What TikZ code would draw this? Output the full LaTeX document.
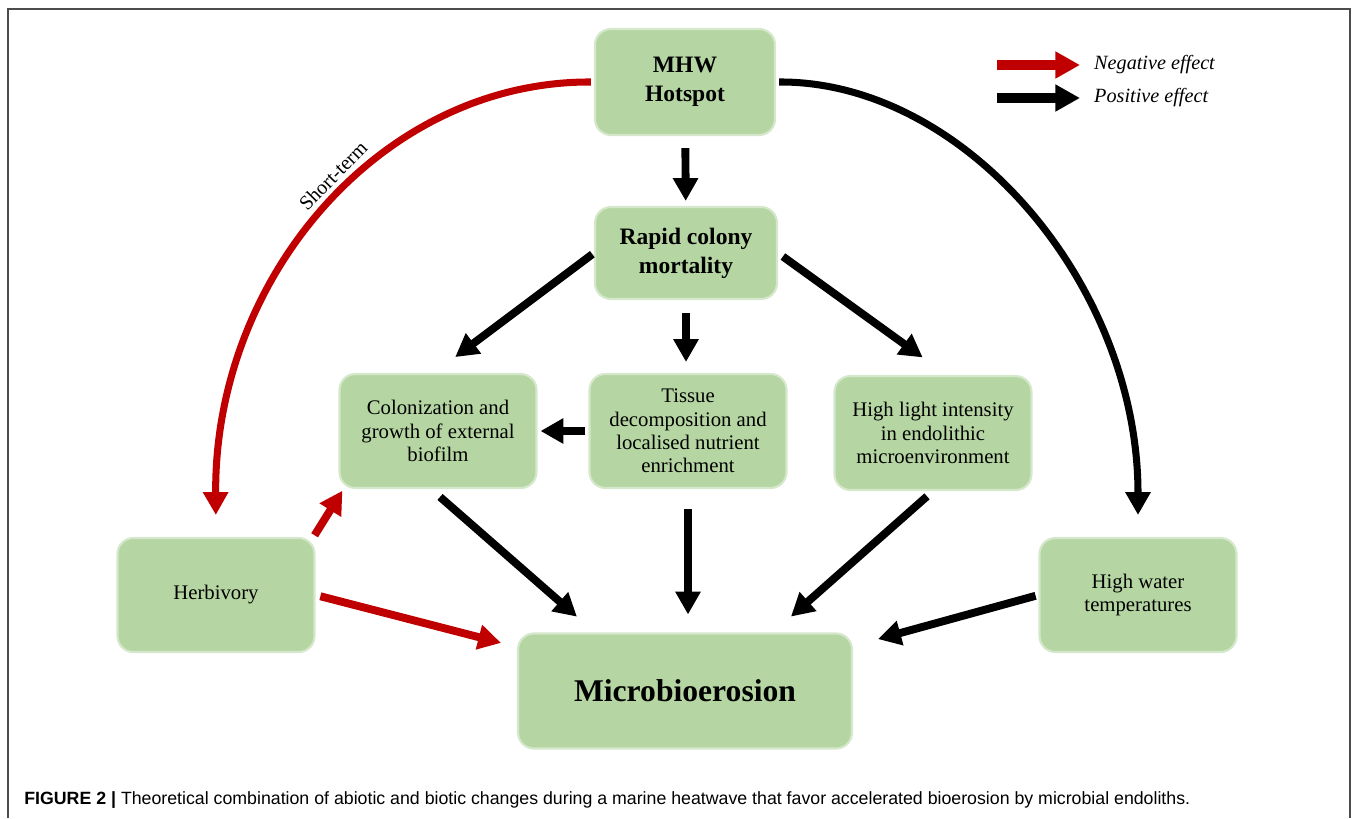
\documentclass[tikz,border=0pt]{standalone}
\usepackage{fontspec}
\setmainfont{Liberation Serif}
\setsansfont{Liberation Sans}
\usetikzlibrary{arrows.meta, calc, positioning}
\definecolor{boxgreen}{RGB}{181,214,162}
\definecolor{negred}{RGB}{192,0,0}
\begin{document}
\begin{tikzpicture}[x=0.02cm, y=-0.02cm,
	box/.style={rectangle, rounded corners=9pt, fill=boxgreen, draw=boxgreen!55!white, line width=1.2pt, align=center, minimum width=3.94cm, minimum height=2.28cm, font=\fontsize{11.8}{13.2}\selectfont},
	bigbox/.style={box, font=\bfseries\fontsize{13.4}{16.5}\selectfont},
	posarrow/.style={-{Triangle[length=13pt, width=13.7pt]}, line width=4.5pt, black},
	negarrow/.style={posarrow, negred},
	legarrow/.style={-{Triangle[length=14pt, width=14.5pt]}, line width=5.5pt}]
	\useasboundingbox (0,0) rectangle (1358,818);
	\draw[line width=1pt, black!70] (8,818) -- (8,9) -- (1350,9) -- (1350,818);

	\node[bigbox, minimum width=3.6cm, minimum height=2.12cm] (mhw) at (685,82) {MHW\\Hotspot};
	\node[bigbox, minimum width=3.64cm, minimum height=1.84cm] (rapid) at (686,253) {Rapid colony\\mortality};
	\node[box] (colon) at (438,431) {Colonization and\\growth of external\\biofilm};
	\node[box] (tissue) at (688,431) {Tissue\\decomposition and\\localised nutrient\\enrichment};
	\node[box] (light) at (933,433) {High light intensity\\in endolithic\\microenvironment};
	\node[box] (herb) at (216,595) {Herbivory};
	\node[box] (water) at (1138,595) {High water\\temperatures};
	\node[box, minimum width=6.68cm, minimum height=2.3cm, font=\bfseries\fontsize{18}{20}\selectfont] (micro) at (685,691) {Microbioerosion};

	\draw[posarrow, shorten <=0.24cm, shorten >=0.1cm] (mhw) -- (rapid);
	\draw[posarrow, shorten <=0.04cm, shorten >=0.53cm] (rapid.west) -- ($(colon.north)+(-4,0)$);
	\draw[posarrow, shorten <=0.26cm, shorten >=0.22cm] (rapid.south) -- (rapid.south |- tissue.north);
	\draw[posarrow, shorten <=0.12cm, shorten >=0.6cm] (rapid.east) -- ($(light.north)+(14,0)$);
	\draw[posarrow, shorten <=0.06cm, shorten >=0.06cm] (tissue) -- (colon);
	\draw[posarrow, shorten <=0.24cm, shorten >=0.48cm] ($(colon.south)+(-7,0)$) -- ($(micro.north)+(-90,0)$);
	\draw[posarrow, shorten <=0.4cm, shorten >=0.36cm] (tissue.south) -- (tissue.south |- micro.north);
	\draw[posarrow, shorten <=0.16cm, shorten >=0.48cm] (light.south) -- ($(micro.north)+(88,0)$);
	\draw[posarrow, shorten <=0.06cm, shorten >=0.52cm] (water.west) -- ($(micro.east)+(0,-45)$);
	\draw[negarrow, shorten <=0.04cm, shorten >=0.04cm] ($(herb.north east)+(-2,0)$) -- ($(colon.south west)+(5,0)$);
	\draw[negarrow, shorten <=0.1cm, shorten >=0.33cm] (herb.east) -- ($(micro.west)+(0,-44)$);

	\draw[negarrow, line width=4pt, shorten <=0.06cm, shorten >=0.44cm] (mhw.west) .. controls (382,81) and (214,277) .. (herb.north) node[pos=0.45, sloped, above=1pt, black, font=\fontsize{11.5}{13}\selectfont] (shortlbl) {Short-term};
	\draw[posarrow, line width=4pt, shorten <=0.06cm, shorten >=0.44cm] (mhw.east) .. controls (965,81) and (1138,285) .. (water.north);

	\coordinate (negstart) at (997,65);
	\coordinate (negend) at (1080,65);
	\coordinate (posstart) at (997,98);
	\coordinate (posend) at (1080,98);
	\draw[legarrow, negred] (negstart) -- (negend);
	\draw[legarrow, black] (posstart) -- (posend);
	\node[right=0.16cm of negend, font=\itshape\fontsize{11.5}{13}\selectfont] (negtext) {Negative effect};
	\node[right=0.16cm of posend, font=\itshape\fontsize{11.5}{13}\selectfont] (postext) {Positive effect};

	\node[anchor=base west, inner sep=0pt, font=\sffamily\fontsize{10.1}{12}\selectfont] (caption) at (24,804) {\textbf{FIGURE 2 |} Theoretical combination of abiotic and biotic changes during a marine heatwave that favor accelerated bioerosion by microbial endoliths.};
\end{tikzpicture}
\end{document}
